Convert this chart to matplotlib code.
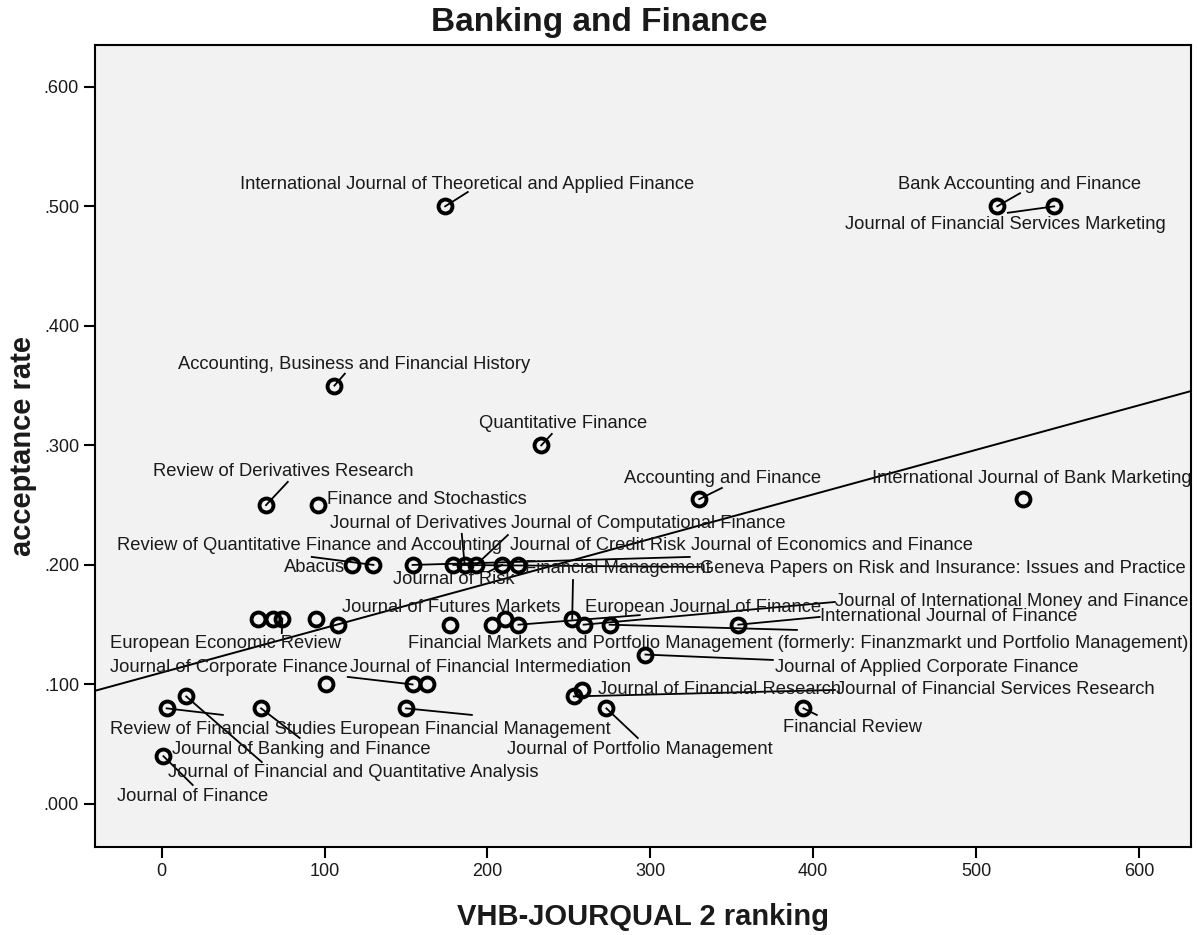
import matplotlib
matplotlib.use("Agg")
import matplotlib.pyplot as plt
import matplotlib.ticker as mticker
import numpy as np

plt.rcParams['font.family'] = ['Liberation Sans', 'DejaVu Sans']

# journals: VHB-JOURQUAL 2 ranking vs. acceptance rate (empty name = no label shown)
names = [
    "International Journal of Theoretical and Applied Finance",
    "Bank Accounting and Finance",
    "Journal of Financial Services Marketing",
    "Accounting, Business and Financial History",
    "Quantitative Finance",
    "Review of Derivatives Research",
    "Finance and Stochastics",
    "Accounting and Finance",
    "International Journal of Bank Marketing",
    "Abacus",
    "Review of Quantitative Finance and Accounting",
    "Journal of Economics and Finance",
    "Geneva Papers on Risk and Insurance: Issues and Practice",
    "Journal of Derivatives",
    "Journal of Computational Finance",
    "Journal of Risk",
    "Journal of Credit Risk",
    "", "", "",
    "European Economic Review",
    "", "", "",
    "Journal of Futures Markets",
    "European Journal of Finance",
    "Financial Management",
    "Journal of International Money and Finance",
    "Financial Markets and Portfolio Management (formerly: Finanzmarkt und Portfolio Management)",
    "International Journal of Finance",
    "Journal of Applied Corporate Finance",
    "Journal of Corporate Finance",
    "Journal of Financial Intermediation",
    "",
    "Journal of Financial and Quantitative Analysis",
    "Journal of Financial Services Research",
    "Journal of Financial Research",
    "Review of Financial Studies",
    "Journal of Banking and Finance",
    "European Financial Management",
    "Journal of Portfolio Management",
    "Financial Review",
    "Journal of Finance",
]
ranking = [174, 513, 548, 106, 233, 64, 96, 330, 529,
           117, 130, 154, 179, 186, 193, 209, 219,
           59, 68, 95, 74, 108, 177, 203, 211, 219, 252, 259, 275, 354,
           297, 101, 154, 163,
           15, 253, 258,
           3, 61, 150, 273, 394, 1]
acceptance = [.500, .500, .500, .350, .300, .250, .250, .255, .255,
              .200, .200, .200, .200, .200, .200, .200, .200,
              .155, .155, .155, .155, .150, .150, .150, .155, .150, .155, .150, .150, .150,
              .125, .100, .100, .100,
              .090, .090, .095,
              .080, .080, .080, .080, .080, .040]

# label placement: (text x, text y, ha, leader line end or None)
label_pos = {
    "International Journal of Theoretical and Applied Finance": (47.9, .518, 'left', (187.9, .512)),
    "Bank Accounting and Finance": (452, .518, 'left', (527, .511)),
    "Journal of Financial Services Marketing": (419.4, .4845, 'left', (519.5, .4946)),
    "Accounting, Business and Financial History": (9.8, .368, 'left', (112.4, .360)),
    "Quantitative Finance": (194.7, .318, 'left', (239.5, .3096)),
    "Review of Derivatives Research": (-5.5, .278, 'left', (77.4, .2695)),
    "Finance and Stochastics": (101.3, .2544, 'left', None),
    "Accounting and Finance": (283.7, .272, 'left', (343.9, .2644)),
    "International Journal of Bank Marketing": (436, .272, 'left', None),
    "Abacus": (112.4, .1975, 'right', None),
    "Review of Quantitative Finance and Accounting": (-27.6, .216, 'left', (92.1, .2067)),
    "Journal of Economics and Finance": (324.8, .216, 'left', (324.2, .2067)),
    "Geneva Papers on Risk and Insurance: Issues and Practice": (330.4, .1967, 'left', (330.4, .1983)),
    "Journal of Derivatives": (103.5, .235, 'left', (184.2, .226)),
    "Journal of Computational Finance": (214.5, .235, 'left', (212.5, .225)),
    "Journal of Risk": (141.8, .1874, 'left', (200.4, .1941)),
    "Journal of Credit Risk": (213.7, .216, 'left', None),
    "European Economic Review": (-31.9, .134, 'left', (73.7, .143)),
    "Journal of Futures Markets": (110.5, .164, 'left', None),
    "European Journal of Finance": (259.7, .164, 'left', (293.5, .158)),
    "Financial Management": (222.9, .1967, 'left', (252.5, .1874)),
    "Journal of International Money and Finance": (413.3, .1690, 'left', (413.3, .1690)),
    "Financial Markets and Portfolio Management (formerly: Finanzmarkt und Portfolio Management)":
        (151.1, .134, 'left', (390, .1456)),
    "International Journal of Finance": (404, .1565, 'left', (404, .1565)),
    "Journal of Applied Corporate Finance": (376.4, .1146, 'left', (375.2, .1205)),
    "Journal of Corporate Finance": (-31.9, .1146, 'left', None),
    "Journal of Financial Intermediation": (115.4, .1146, 'left', (114.2, .1063)),
    "Journal of Financial and Quantitative Analysis": (3.7, .026, 'left', (61.4, .0351)),
    "Journal of Financial Services Research": (413.9, .0954, 'left', (413.3, .0954)),
    "Journal of Financial Research": (267.7, .0954, 'left', None),
    "Review of Financial Studies": (-31.9, .0619, 'left', (37.5, .0745)),
    "Journal of Banking and Finance": (6.1, .0452, 'left', (84.7, .0552)),
    "European Financial Management": (109.3, .0619, 'left', (190.4, .0745)),
    "Journal of Portfolio Management": (211.9, .0452, 'left', (292.3, .0552)),
    "Financial Review": (381.3, .0644, 'left', (402.2, .0745)),
    "Journal of Finance": (-27.6, .0059, 'left', (19.0, .0159)),
}

fig = plt.figure(figsize=(11.98, 9.35), dpi=100)
ax = fig.add_axes([0.0793, 0.0941, 0.9149, 0.8578])
ax.set_facecolor('#f2f2f2')
ax.set_xlim(-41, 632)
ax.set_ylim(-0.036, 0.635)

x = np.array(ranking, dtype=float)
y = np.array(acceptance)

# linear fit line
slope, intercept = np.polyfit(x, y, 1)
xs = np.array(ax.get_xlim())
ax.plot(xs, intercept + slope * xs, color='black', lw=1.4, zorder=2)

# leader lines and labels
for name, xi, yi in zip(names, x, y):
    if not name:
        continue
    tx, ty, ha, end = label_pos[name]
    if end is not None:
        ax.plot([xi, end[0]], [yi, end[1]], color='black', lw=1.3, zorder=2)
    ax.text(tx, ty, name, ha=ha, va='center', fontsize=13.2, color='#1a1a1a', zorder=3)

ax.plot(x, y, 'o', ms=10, mfc='none', mec='black', mew=2.8, zorder=4)

ax.xaxis.set_major_locator(mticker.MultipleLocator(100))
ax.yaxis.set_major_locator(mticker.MultipleLocator(0.1))
ax.yaxis.set_major_formatter(mticker.FuncFormatter(lambda v, p: ("%.3f" % v).lstrip('0')))
ax.tick_params(direction='out', length=8, width=1.5, labelsize=13, color='black', labelcolor='#1a1a1a')
for s in ax.spines.values():
    s.set_linewidth(1.5)

ax.set_xlabel("VHB-JOURQUAL 2 ranking", fontsize=21, fontweight='bold', color='#1a1a1a')
ax.set_ylabel("acceptance rate", fontsize=21, fontweight='bold', color='#1a1a1a')
ax.xaxis.set_label_coords(0.5, -0.087)
ax.xaxis.label.set_va('center')
ax.yaxis.set_label_coords(-0.066, 0.5)
ax.yaxis.label.set_va('center')
fig.text(0.5, 0.976, "Banking and Finance", ha='center', va='center', fontsize=24,
         fontweight='bold', color='#1a1a1a')

fig.savefig("out.png", dpi=100)
